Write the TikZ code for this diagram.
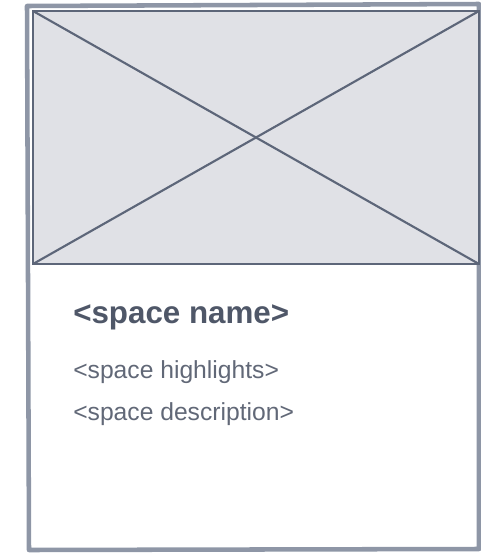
\documentclass[tikz,border=0pt]{standalone}
\usepackage{fontspec}
\setmainfont{Liberation Sans}
\definecolor{frame}{HTML}{8E96A6}
\definecolor{ink}{HTML}{5D6679}
\definecolor{photo}{HTML}{E0E1E6}
\definecolor{textc}{HTML}{4F5768}
\begin{document}
\begin{tikzpicture}[x=0.75pt,y=-0.75pt,
    card/.style = {draw=frame, line width=3.4pt, line join=round},
    photobox/.style = {draw=ink, fill=photo, line width=1.3pt},
    cross/.style = {draw=ink, line width=1.6pt},
    title/.style = {anchor=base west, inner sep=0pt, text=textc, font=\bfseries\fontsize{23.5pt}{28pt}\selectfont},
    line/.style = {anchor=base west, inner sep=0pt, text=textc!90, font=\fontsize{18.5pt}{22pt}\selectfont}]
            \useasboundingbox (0,0) rectangle (481,554);
            % card outline
            \coordinate (tl) at (27,6);
            \coordinate (tr) at (479,4);
            \coordinate (br) at (479,549);
            \coordinate (bl) at (29,550);
            \draw[card] (tl) -- (tr) -- (br) -- (bl) -- cycle;
            % image placeholder
            \coordinate (p1) at (33,11);
            \coordinate (p2) at (479,11);
            \coordinate (p3) at (479,264);
            \coordinate (p4) at (33,264);
            \draw[photobox] (p1) rectangle (p3);
            \draw[cross] (p1) -- (p3);
            \draw[cross] (p2) -- (p4);
            % texts
            \node[title] (name) at (73,323) {<space name>};
            \node[line] (high) at (73,378) {<space highlights>};
            \node[line] (desc) at (73,420) {<space description>};
        \end{tikzpicture}
\end{document}
